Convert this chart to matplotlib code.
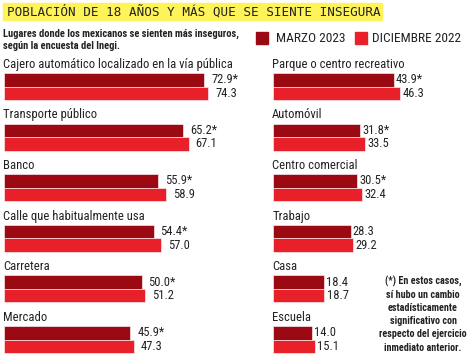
import matplotlib
matplotlib.use("Agg")
import matplotlib.pyplot as plt
from matplotlib import font_manager
from matplotlib.patches import Rectangle

# Datos
izq_lugares = ["Cajero automático localizado en la vía pública", "Transporte público",
               "Banco", "Calle que habitualmente usa", "Carretera", "Mercado"]
izq_marzo = [72.9, 65.2, 55.9, 54.4, 50.0, 45.9]
izq_dic = [74.3, 67.1, 58.9, 57.0, 51.2, 47.3]
izq_signif = [True, True, True, True, True, True]

der_lugares = ["Parque o centro recreativo", "Automóvil", "Centro comercial",
               "Trabajo", "Casa", "Escuela"]
der_marzo = [43.9, 31.8, 30.5, 28.3, 18.4, 14.0]
der_dic = [46.3, 33.5, 32.4, 29.2, 18.7, 15.1]
der_signif = [True, True, True, False, False, False]

series = ["MARZO 2023", "DICIEMBRE 2022"]

OSCURO = "#9b0a12"
CLARO = "#e8202a"
AMARILLO = "#fff35a"
TEXTO = "#222222"

nombres = {f.name for f in font_manager.fontManager.ttflist}
if "Roboto Condensed" in nombres:
    COND = dict(family="Roboto Condensed")
else:
    COND = dict(family="DejaVu Sans", fontstretch="condensed")

W, H = 474, 356
fig = plt.figure(figsize=(W / 100, H / 100), dpi=100)

# titulo con fondo amarillo
fig.patches.append(Rectangle((3 / W, 1 - 20 / H), 379 / W, 17 / H,
                             transform=fig.transFigure, color=AMARILLO, zorder=0))
fig.text(7 / W, 1 - 12 / H, "POBLACIÓN DE 18 AÑOS Y MÁS QUE SE SIENTE INSEGURA",
         family="DejaVu Sans Mono", fontsize=9.1, color=TEXTO, va="center", ha="left")

fig.text(3 / W, 1 - 33.5 / H, "Lugares donde los mexicanos se sienten más inseguros,",
         fontweight="bold", fontsize=7.6, color=TEXTO, va="center", **COND)
fig.text(3 / W, 1 - 46 / H, "según la encuesta del Inegi.",
         fontweight="bold", fontsize=7.6, color=TEXTO, va="center", **COND)

# leyenda
for x0, tx, nombre, col in [(256, 276, series[0], OSCURO), (355, 372, series[1], CLARO)]:
    fig.patches.append(Rectangle((x0 / W, 1 - 44 / H), 12 / W, 12 / H,
                                 transform=fig.transFigure, color=col))
    fig.text(tx / W, 1 - 38 / H, nombre, fontsize=9.6,
             color=TEXTO, va="center", ha="left", **COND)

PITCH = 50.6   # px por fila
BAR = 13.5 / PITCH
SCALE = 2.75   # px por punto porcentual
top_px = 52
y_top = -(86.5 - top_px) / PITCH
y_bot = (H - 86.5) / PITCH


def panel(x_px, ancho_px, lugares, marzo, dic, signif, sep):
    ax = fig.add_axes([x_px / W, 0, ancho_px / W, (H - top_px) / H])
    ax.set_xlim(0, ancho_px / SCALE)
    ax.set_ylim(y_bot, y_top)
    ax.axis("off")
    for i, (lug, m, d, s) in enumerate(zip(lugares, marzo, dic, signif)):
        ax.barh(i - BAR, m, height=BAR, align="edge", color=OSCURO,
                edgecolor="white", linewidth=0.4)
        ax.barh(i, d, height=BAR, align="edge", color=CLARO,
                edgecolor="white", linewidth=0.4)
        ax.text(-0.3, i - BAR - 0.17, lug, fontsize=9.1,
                color=TEXTO, va="center", ha="left", **COND)
        ax.annotate(f"{m:.1f}" + ("*" if s else ""), (m, i - BAR / 2),
                    xytext=(sep, 0), textcoords="offset points",
                    fontsize=9, color=TEXTO, va="center", **COND)
        ax.annotate(f"{d:.1f}", (d, i + BAR / 2),
                    xytext=(sep, 0), textcoords="offset points",
                    fontsize=9, color=TEXTO, va="center", **COND)
    return ax


panel(4, 236, izq_lugares, izq_marzo, izq_dic, izq_signif, 5)
panel(273, 201, der_lugares, der_marzo, der_dic, der_signif, 1.5)

nota = ("(*) En estos casos,\nsí hubo un cambio\nestadísticamente\n"
        "significativo con\nrespecto del ejercicio\ninmediato anterior.")
fig.text(423 / W, 1 - 314 / H, nota, fontweight="bold", fontsize=7.3,
         color=TEXTO, ha="center", va="center", linespacing=1.4, **COND)

fig.savefig("out.png", dpi=100)
